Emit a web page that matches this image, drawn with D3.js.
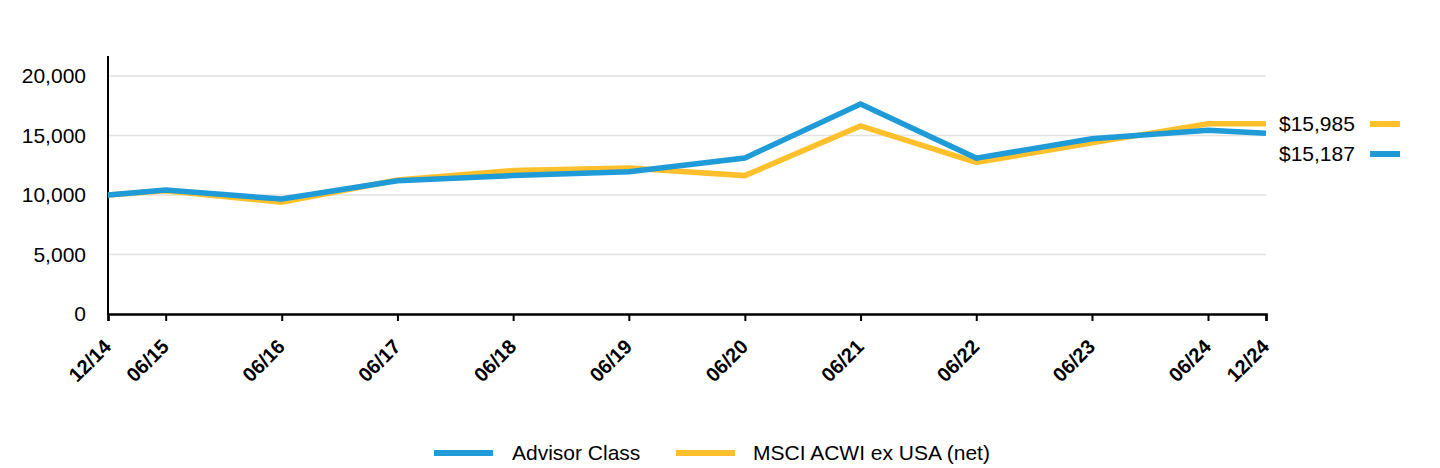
<!DOCTYPE html>
<html><head><meta charset="utf-8">
<script src="https://cdn.jsdelivr.net/npm/d3@7"></script>
<style>body{margin:0;background:#fff}svg{display:block;font-family:"Liberation Sans",Arial,sans-serif}</style>
</head><body><svg id="c" width="1440" height="468"></svg>
<script>
const dates = ["2014-12","2015-06","2016-06","2017-06","2018-06","2019-06","2020-06","2021-06","2022-06","2023-06","2024-06","2024-12"];
const tickLabels = ["12/14","06/15","06/16","06/17","06/18","06/19","06/20","06/21","06/22","06/23","06/24","12/24"];
const advisor = [10000,10420,9660,11190,11640,11950,13110,17650,13100,14730,15450,15187];
const msci = [10000,10350,9400,11260,12060,12260,11630,15800,12740,14380,15990,15985];
const yTicks = [0,5000,10000,15000,20000];
const seriesNames = ["Advisor Class","MSCI ACWI ex USA (net)"];
const colors = ["#1F9BD7","#FFC02B"];

const parse = d3.timeParse("%Y-%m");
const svg = d3.select("#c");
const x = d3.scaleTime().domain([parse(dates[0]), parse(dates[dates.length-1])]).range([108,1266]);
const y = d3.scaleLinear().domain([0,20000]).range([314,76]);
const FS = 21;

// gridlines
svg.append("g").selectAll("line").data(yTicks.filter(d=>d>0)).join("line")
  .attr("x1",108).attr("x2",1266).attr("y1",d=>y(d)).attr("y2",d=>y(d))
  .attr("stroke","#e2e2e2").attr("stroke-width",1.5);

// y axis
const ya = svg.append("g").attr("transform","translate(108,0)")
  .call(d3.axisLeft(y).tickValues(yTicks).tickSize(0).tickPadding(22).tickFormat(d3.format(",")));
ya.select(".domain").remove();
ya.selectAll("text").attr("font-size",FS).attr("fill","#000").attr("font-family","Liberation Sans, Arial, sans-serif");
svg.append("line").attr("x1",108).attr("x2",108).attr("y1",56).attr("y2",315).attr("stroke","#000").attr("stroke-width",2);

// x axis
const xa = svg.append("g").attr("transform","translate(0,314)")
  .call(d3.axisBottom(x).tickValues(dates.map(parse)).tickSize(7).tickFormat((d,i)=>tickLabels[i]));
xa.select(".domain").attr("stroke","#000").attr("stroke-width",2.5);
xa.selectAll(".tick line").attr("stroke","#000").attr("stroke-width",2);
xa.selectAll("text").attr("font-size",20).attr("font-weight","bold").attr("fill","#000")
  .attr("font-family","Liberation Sans, Arial, sans-serif")
  .attr("text-anchor","end").attr("y",0).attr("dy","0.35em")
  .attr("transform","translate(-1,29) rotate(-45)");

// lines
const line = d3.line().x((d,i)=>x(parse(dates[i]))).y(d=>y(d));
svg.append("path").datum(msci).attr("d",line).attr("fill","none").attr("stroke",colors[1]).attr("stroke-width",5.5).attr("stroke-linejoin","miter");
svg.append("path").datum(advisor).attr("d",line).attr("fill","none").attr("stroke",colors[0]).attr("stroke-width",5.5).attr("stroke-linejoin","miter");

// end labels
const endVals = [{v:msci[msci.length-1],c:colors[1],yy:124},{v:advisor[advisor.length-1],c:colors[0],yy:154}];
endVals.forEach(e=>{
  svg.append("text").attr("x",1279).attr("y",e.yy).attr("dy","0.35em").attr("font-size",FS).attr("fill","#000").text("$"+d3.format(",")(e.v));
  svg.append("line").attr("x1",1370).attr("x2",1400).attr("y1",e.yy).attr("y2",e.yy).attr("stroke",e.c).attr("stroke-width",6);
});

// legend
const leg = [{x:434,tx:512},{x:676,tx:753}];
seriesNames.forEach((n,i)=>{
  svg.append("line").attr("x1",leg[i].x).attr("x2",leg[i].x+59).attr("y1",453).attr("y2",453).attr("stroke",colors[i]).attr("stroke-width",6);
  svg.append("text").attr("x",leg[i].tx).attr("y",453).attr("dy","0.35em").attr("font-size",FS).attr("fill","#000").text(n);
});
</script></body></html>
